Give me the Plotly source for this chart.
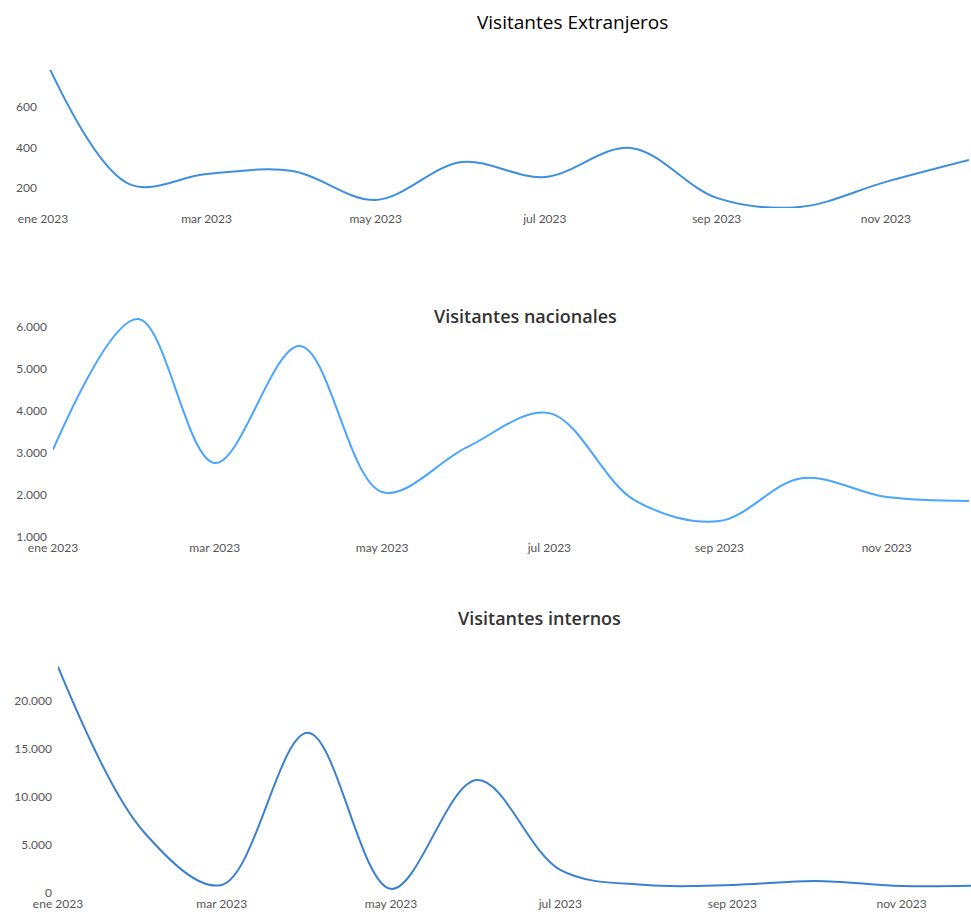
import plotly.graph_objects as go

W, H = 971, 912

months = ["2023-01-01", "2023-02-01", "2023-03-01", "2023-04-01", "2023-05-01", "2023-06-01",
          "2023-07-01", "2023-08-01", "2023-09-01", "2023-10-01", "2023-11-01", "2023-12-01"]

extranjeros = [860, 220, 269, 284, 141, 328, 254, 398, 151, 106, 230, 338]
nacionales = [3080, 6190, 2760, 5550, 2070, 3140, 3950, 1880, 1380, 2400, 1950, 1860]
internos = [23540, 6300, 810, 16650, 400, 11730, 2370, 800, 800, 1230, 700, 750]

tick_dates = ["2023-01-01", "2023-03-01", "2023-05-01", "2023-07-01", "2023-09-01", "2023-11-01"]
tick_text = ["ene 2023", "mar 2023", "may 2023", "jul 2023", "sep 2023", "nov 2023"]

titles = ["Visitantes Extranjeros", "Visitantes nacionales", "Visitantes internos"]


def px_x(p):
    return min(max(p / W, 0.0), 1.0)


def px_y(p):
    return min(max(1 - p / H, 0.0), 1.0)


fig = go.Figure()

fig.add_trace(go.Scatter(x=months, y=extranjeros, mode="lines",
                         line=dict(shape="spline", color="#3d8fe0", width=2),
                         xaxis="x", yaxis="y", showlegend=False))
fig.add_trace(go.Scatter(x=months, y=nacionales, mode="lines",
                         line=dict(shape="spline", color="#4aa5ff", width=2),
                         xaxis="x2", yaxis="y2", showlegend=False))
fig.add_trace(go.Scatter(x=months, y=internos, mode="lines",
                         line=dict(shape="spline", color="#3a80d2", width=2),
                         xaxis="x3", yaxis="y3", showlegend=False))

tickfont = dict(family="Lato", size=12, color="#555555")
common_x = dict(type="date", showgrid=False, zeroline=False, showline=False,
                tickmode="array", tickvals=tick_dates, ticktext=tick_text,
                tickfont=tickfont, ticks="", automargin=False, ticklabelstandoff=2)
common_y = dict(showgrid=False, zeroline=False, showline=False, tickfont=tickfont,
                tickformat=",d", ticks="", automargin=False, ticklabelstandoff=5)

fig.update_layout(
    template="none",
    width=W, height=H,
    margin=dict(l=0, r=0, t=0, b=0, pad=0),
    paper_bgcolor="white", plot_bgcolor="white",
    separators=",.",
    xaxis=dict(common_x, domain=[px_x(43), px_x(969)], range=["2023-01-01", "2023-12-01"], anchor="y"),
    yaxis=dict(common_y, domain=[px_y(208), px_y(70)], range=[101, 783], anchor="x",
               tickvals=[200, 400, 600]),
    xaxis2=dict(common_x, domain=[px_x(53), px_x(969)], range=["2023-01-01", "2023-12-01"], anchor="y2"),
    yaxis2=dict(common_y, domain=[px_y(537), px_y(315)], range=[1000, 6286], anchor="x2",
                tickvals=[1000, 2000, 3000, 4000, 5000, 6000]),
    xaxis3=dict(common_x, domain=[px_x(58), 1.0], range=["2023-01-01", "2023-11-26"], anchor="y3"),
    yaxis3=dict(common_y, domain=[px_y(892.7), px_y(660)], range=[0, 24240], anchor="x3",
                tickvals=[0, 5000, 10000, 15000, 20000]),
    annotations=[
        dict(text=titles[0], x=px_x(572), y=px_y(22), xref="paper", yref="paper",
             xanchor="center", yanchor="middle", showarrow=False,
             font=dict(family="Open Sans", size=19, color="#000000", weight=400)),
        dict(text=titles[1], x=px_x(525), y=px_y(316), xref="paper", yref="paper",
             xanchor="center", yanchor="middle", showarrow=False,
             font=dict(family="Open Sans", size=18, color="#333333", weight=600)),
        dict(text=titles[2], x=px_x(539), y=px_y(618), xref="paper", yref="paper",
             xanchor="center", yanchor="middle", showarrow=False,
             font=dict(family="Open Sans", size=18, color="#333333", weight=600)),
    ],
)

fig.write_html(
    "out.html",
    config={"displayModeBar": False},
    post_script="document.body.style.margin='0';document.documentElement.style.overflow='hidden';",
)
